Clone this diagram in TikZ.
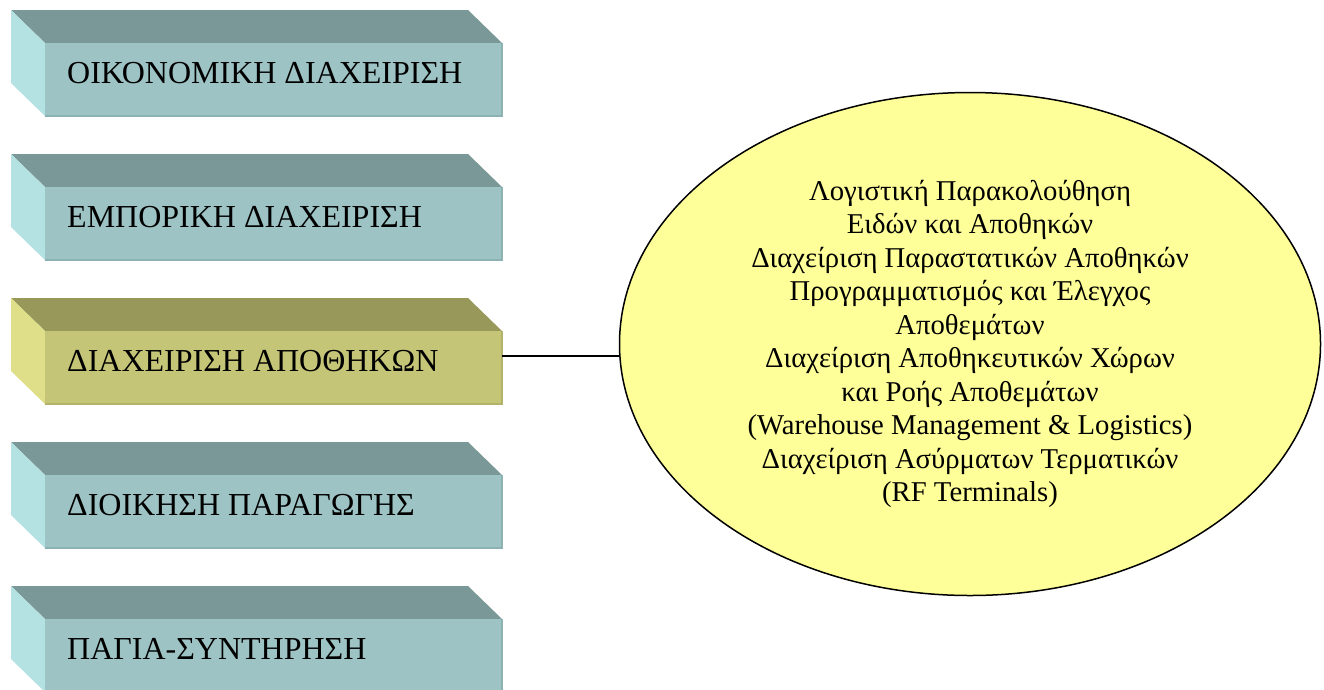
\documentclass[tikz,border=0pt]{standalone}
\usepackage{fontspec}
\setmainfont{Liberation Serif}
\usetikzlibrary{shapes.geometric,calc}
\definecolor{tealtop}{HTML}{7A9897}
\definecolor{tealfront}{HTML}{9DC3C4}
\definecolor{tealleft}{HTML}{B4E1E2}
\definecolor{tealedge}{HTML}{8DB2B3}
\definecolor{olivetop}{HTML}{98985A}
\definecolor{olivefront}{HTML}{C5C578}
\definecolor{oliveleft}{HTML}{DFDF89}
\definecolor{oliveedge}{HTML}{B2B26A}
\definecolor{ellfill}{HTML}{FFFF99}
\tikzset{
  frontbox/.style={rectangle, minimum width=457pt, minimum height=73pt, inner sep=0pt, draw=none},
  boxlabel/.style={anchor=base west, inner sep=0pt, font=\fontsize{32}{36}\selectfont},
  bubble/.style={ellipse, draw=black, line width=1.5pt, fill=ellfill, minimum width=701pt, minimum height=503pt, inner sep=0pt, align=center, font=\fontsize{28.7}{33.5}\selectfont},
  link/.style={draw=black, line width=1.3pt}
}
% #1 name, #2 top y, #3 top colour, #4 front colour, #5 left colour, #6 edge colour, #7 text
\newcommand{\bevelbox}[7]{%
  \fill[#3] (11,#2) -- (468,#2) -- (502,#2+33) -- (45,#2+33) -- cycle;
  \fill[#5] (11,#2) -- (45,#2+33) -- (45,#2+106) -- (11,#2+73) -- cycle;
  \node[frontbox, fill=#4] (#1) at (273.5,#2+69.5) {};
  \draw[#6, line width=1.5pt] (#1.north east) -- (#1.south east) -- (#1.south west);
  \node[boxlabel] (#1t) at (67,#2+73) {#7};
}
\begin{document}
\begin{tikzpicture}[x=1pt,y=-1pt]
\useasboundingbox (0,0) rectangle (1324,689);
\fill[white] (0,0) rectangle (1324,689);
\bevelbox{b1}{10}{tealtop}{tealfront}{tealleft}{tealedge}{ΟΙΚΟΝΟΜΙΚΗ ΔΙΑΧΕΙΡΙΣΗ}
\bevelbox{b2}{154}{tealtop}{tealfront}{tealleft}{tealedge}{ΕΜΠΟΡΙΚΗ ΔΙΑΧΕΙΡΙΣΗ}
\bevelbox{b3}{298}{olivetop}{olivefront}{oliveleft}{oliveedge}{ΔΙΑΧΕΙΡΙΣΗ ΑΠΟΘΗΚΩΝ}
\bevelbox{b4}{442}{tealtop}{tealfront}{tealleft}{tealedge}{ΔΙΟΙΚΗΣΗ ΠΑΡΑΓΩΓΗΣ}
\bevelbox{b5}{586}{tealtop}{tealfront}{tealleft}{tealedge}{ΠΑΓΙΑ-ΣΥΝΤΗΡΗΣΗ}
\node[bubble] (ell) at (970,344) {Λογιστική Παρακολούθηση\\Ειδών και Αποθηκών\\Διαχείριση Παραστατικών Αποθηκών\\Προγραμματισμός και Έλεγχος\\Αποθεμάτων\\Διαχείριση Αποθηκευτικών Χώρων\\και Ροής Αποθεμάτων\\(Warehouse Management \& Logistics)\\Διαχείριση Ασύρματων Τερματικών\\(RF Terminals)};
\draw[link] ($(b3.east)+(0,-11.5)$) -- ($(ell.west)+(0,12)$);
\end{tikzpicture}
\end{document}
